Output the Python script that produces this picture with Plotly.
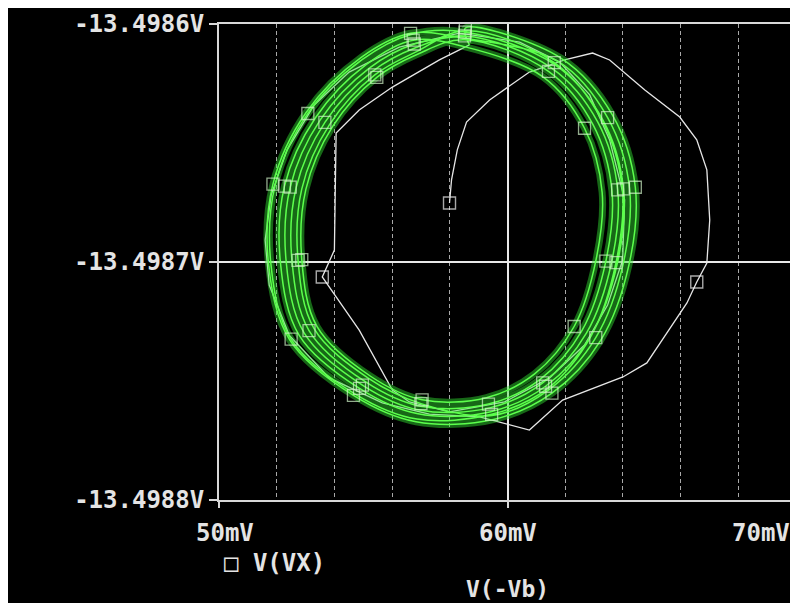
import plotly.graph_objects as go

# ---------------- data ----------------
# x in mV  (V(-Vb)),  y stored as deviation (uV) from -13.4987 V  (V(VX))
Y_BASE_V = -13.4987

WHITE_X = [57.99, 58.06, 58.26, 58.58, 59.38, 60.76, 61.98, 62.95, 63.54, 64.76,
           65.97, 66.56, 66.91, 67.01, 66.91, 66.56, 66.22, 64.83, 64.00, 61.91,
           60.76, 59.03, 57.29, 55.66, 53.82, 52.43, 51.74, 51.60, 51.81, 52.36,
           53.30, 54.51, 56.25, 58.33, 60.42, 61.81, 62.85, 63.54, 64.06, 63.99,
           63.47, 62.67, 61.46, 59.90, 57.99, 56.60, 56.01, 54.86, 53.58, 54.00,
           54.03, 54.06, 54.86, 56.01, 57.64, 58.68]
WHITE_DEV = [24.8, 34.5, 47.1, 58.8, 68.1, 79.8, 84.9, 87.8, 84.9, 72.3,
             60.9, 51.3, 38.7, 17.6, -0.4, -8.4, -17.2, -42.4, -48.3, -58.0,
             -70.6, -65.1, -63.9, -59.2, -48.7, -30.7, -9.7, 9.2, 28.2, 47.1,
             66.0, 79.8, 90.3, 96.2, 92.4, 84.0, 70.2, 51.3, 26.1, 0.8,
             -18.1, -34.9, -48.7, -58.8, -63.0, -58.8, -53.8, -28.6, -6.3, 5.0,
             30.3, 54.2, 63.9, 73.5, 84.9, 91.2]
WHITE_MARKED = [0, 15, 48]

LOOP_A_X = [58.54, 61.86, 63.64, 64.43, 64.21, 63.23, 61.54, 59.51, 56.83, 54.66, 52.45, 51.72, 51.87, 53.02, 54.92, 56.64]
LOOP_A_DEV = [98.3, 85.6, 61.7, 31.4, -1.2, -32.9, -55.1, -66.2, -67.1, -56.0, -32.7, -1.1, 32.7, 62.8, 85.9, 96.1]
LOOP_D_X = [58.52, 61.75, 63.47, 64.23, 64.01, 63.06, 61.43, 59.46, 57.00, 55.17, 53.29, 52.74, 52.87, 53.83, 55.40, 56.85]
LOOP_D_DEV = [94.0, 84.3, 60.7, 31.0, -0.8, -31.8, -53.7, -64.5, -59.5, -48.8, -27.9, 0.7, 30.7, 57.7, 78.6, 88.4]
LOOP_C_X = [58.53, 61.62, 63.27, 63.98, 63.76, 62.90, 61.38, 59.45, 56.86, 54.72, 52.50, 51.80, 51.95, 53.08, 54.96, 56.66]
LOOP_C_DEV = [97.2, 83.8, 59.6, 30.6, -0.3, -31.0, -53.2, -64.0, -66.0, -55.5, -32.4, -1.0, 32.5, 62.4, 85.0, 95.6]
LOOP_E_X = [58.53, 61.64, 63.30, 64.02, 63.81, 62.90, 61.32, 59.42, 56.90, 54.87, 52.78, 52.13, 52.27, 53.35, 55.11, 56.73]
LOOP_E_DEV = [96.6, 82.9, 59.8, 30.7, -0.4, -30.8, -52.2, -62.9, -63.8, -53.1, -30.8, -0.4, 31.9, 60.7, 83.0, 93.2]
LOOP_B_X = [58.47, 61.23, 62.67, 63.28, 63.07, 62.31, 60.94, 59.27, 57.04, 55.24, 53.40, 52.87, 53.01, 53.94, 55.47, 56.88]
LOOP_B_DEV = [90.6, 77.8, 56.2, 29.3, 1.0, -27.1, -47.0, -57.0, -57.9, -47.9, -27.2, 1.0, 30.5, 57.0, 77.6, 87.3]
LOOP_F_X = [58.50, 61.42, 62.96, 63.62, 63.41, 62.58, 61.12, 59.34, 56.98, 55.07, 53.12, 52.53, 52.67, 53.67, 55.31, 56.81]
LOOP_F_DEV = [93.4, 80.1, 57.8, 29.9, 0.4, -28.8, -49.4, -59.7, -60.6, -50.3, -28.8, 0.4, 31.1, 58.7, 80.0, 90.0]
LOOP_G_X = [58.51, 61.53, 63.13, 63.82, 63.61, 62.74, 61.22, 59.38, 56.94, 54.97, 52.95, 52.33, 52.47, 53.51, 55.21, 56.77, 58.51]
LOOP_G_DEV = [95.0, 81.5, 58.8, 30.3, 0.0, -29.8, -50.8, -61.3, -62.2, -51.7, -29.8, 0.0, 31.5, 59.7, 81.5, 91.6, 95.0]

X_TICKS = [50, 60, 70]
X_TICK_TEXT = ["50mV", "60mV", "70mV"]
Y_TICKS = [-13.4986, -13.4987, -13.4988]
Y_TICK_TEXT = ["-13.4986V", "-13.4987V", "-13.4988V"]
X_TITLE = "V(-Vb)"
LEGEND_TEXT = "\u25a1 V(VX)"

# ---------------- build ----------------
def to_v(devs):
    return [Y_BASE_V + d * 1e-6 for d in devs]

green_x = [WHITE_X[-1]]
green_dev = [WHITE_DEV[-1]]
for lx, ld in [(LOOP_A_X, LOOP_A_DEV), (LOOP_D_X, LOOP_D_DEV), (LOOP_C_X, LOOP_C_DEV),
               (LOOP_E_X, LOOP_E_DEV), (LOOP_B_X, LOOP_B_DEV), (LOOP_F_X, LOOP_F_DEV),
               (LOOP_G_X, LOOP_G_DEV)]:
    green_x += lx
    green_dev += ld
green_y = to_v(green_dev)
green_msize = [12 if i % 3 == 1 else 0 for i in range(len(green_x))]
white_msize = [12 if i in WHITE_MARKED else 0 for i in range(len(WHITE_X))]

FONT = "DejaVu Sans Mono"
TXT = "#e4e4e4"
FS = 24

fig = go.Figure()
fig.add_trace(go.Scatter(x=WHITE_X, y=to_v(WHITE_DEV), mode="lines+markers",
                         line=dict(color="#e6e6e6", width=1.3),
                         marker=dict(symbol="square-open", size=white_msize, color="#f0f0f0",
                                     line=dict(width=1.4, color="#f0f0f0")),
                         showlegend=False, hoverinfo="skip"))
fig.add_trace(go.Scatter(x=green_x, y=green_y, mode="lines",
                         line=dict(color="rgba(50,230,50,0.45)", width=7, shape="spline"),
                         showlegend=False, hoverinfo="skip"))
fig.add_trace(go.Scatter(x=green_x, y=green_y, mode="lines+markers", name="V(VX)",
                         line=dict(color="#5cff4c", width=1.5, shape="spline"),
                         marker=dict(symbol="square-open", size=green_msize, color="#d0f4c8",
                                     line=dict(width=1.3, color="#d0f4c8")),
                         showlegend=False))

# page body adds an 8px offset; figure fills the rest of the window
L, R, T, B = 211, 2, 16, 103
W, H = 790, 595
pw = W - L - R

annotations = []
for v, t in zip(X_TICKS, X_TICK_TEXT):
    annotations.append(dict(x=v, xref="x", y=0, yref="paper", yshift=-33, text="<b>%s</b>" % t,
                            showarrow=False, xanchor="right" if v == X_TICKS[-1] else "center",
                            xshift=6 if v == X_TICKS[0] else (-4 if v == X_TICKS[-1] else 0),
                            yanchor="middle", font=dict(family=FONT, size=FS, color=TXT)))
annotations.append(dict(x=3 / pw, xref="paper", y=0, yref="paper", yshift=-63,
                        text="<b>%s</b>" % LEGEND_TEXT, showarrow=False, xanchor="left",
                        yanchor="middle", font=dict(family=FONT, size=FS, color=TXT)))
annotations.append(dict(x=60, xref="x", y=0, yref="paper", yshift=-89,
                        text="<b>%s</b>" % X_TITLE, showarrow=False, xanchor="center",
                        yanchor="middle", font=dict(family=FONT, size=FS - 1, color=TXT)))

fig.update_layout(
    width=W, height=H, margin=dict(l=L, r=R, t=T, b=B, autoexpand=False),
    paper_bgcolor="black", plot_bgcolor="black",
    annotations=annotations, showlegend=False,
    xaxis=dict(range=[50, 70], tickvals=X_TICKS, showticklabels=False, automargin=False,
               ticks="outside", ticklen=6, tickcolor="#d8d8d8", tickwidth=2,
               showgrid=True, gridcolor="#e8e8e8", gridwidth=1.5,
               showline=True, linecolor="#d8d8d8", linewidth=2, mirror=True,
               zeroline=False,
               minor=dict(dtick=2, tick0=50, showgrid=True, gridcolor="#a8a8a8",
                          griddash="4px,3px", gridwidth=1, ticks="")),
    yaxis=dict(range=[-13.4988, -13.4986], tickvals=Y_TICKS, automargin=False,
               ticktext=["<b>%s</b>" % t for t in Y_TICK_TEXT],
               ticks="outside", ticklen=8, tickcolor="#d8d8d8", tickwidth=2,
               tickfont=dict(family=FONT, size=FS, color=TXT),
               showgrid=True, gridcolor="#e8e8e8", gridwidth=1.5,
               showline=True, linecolor="#d8d8d8", linewidth=2, mirror=True,
               zeroline=False),
)

fig.write_html("out.html")
